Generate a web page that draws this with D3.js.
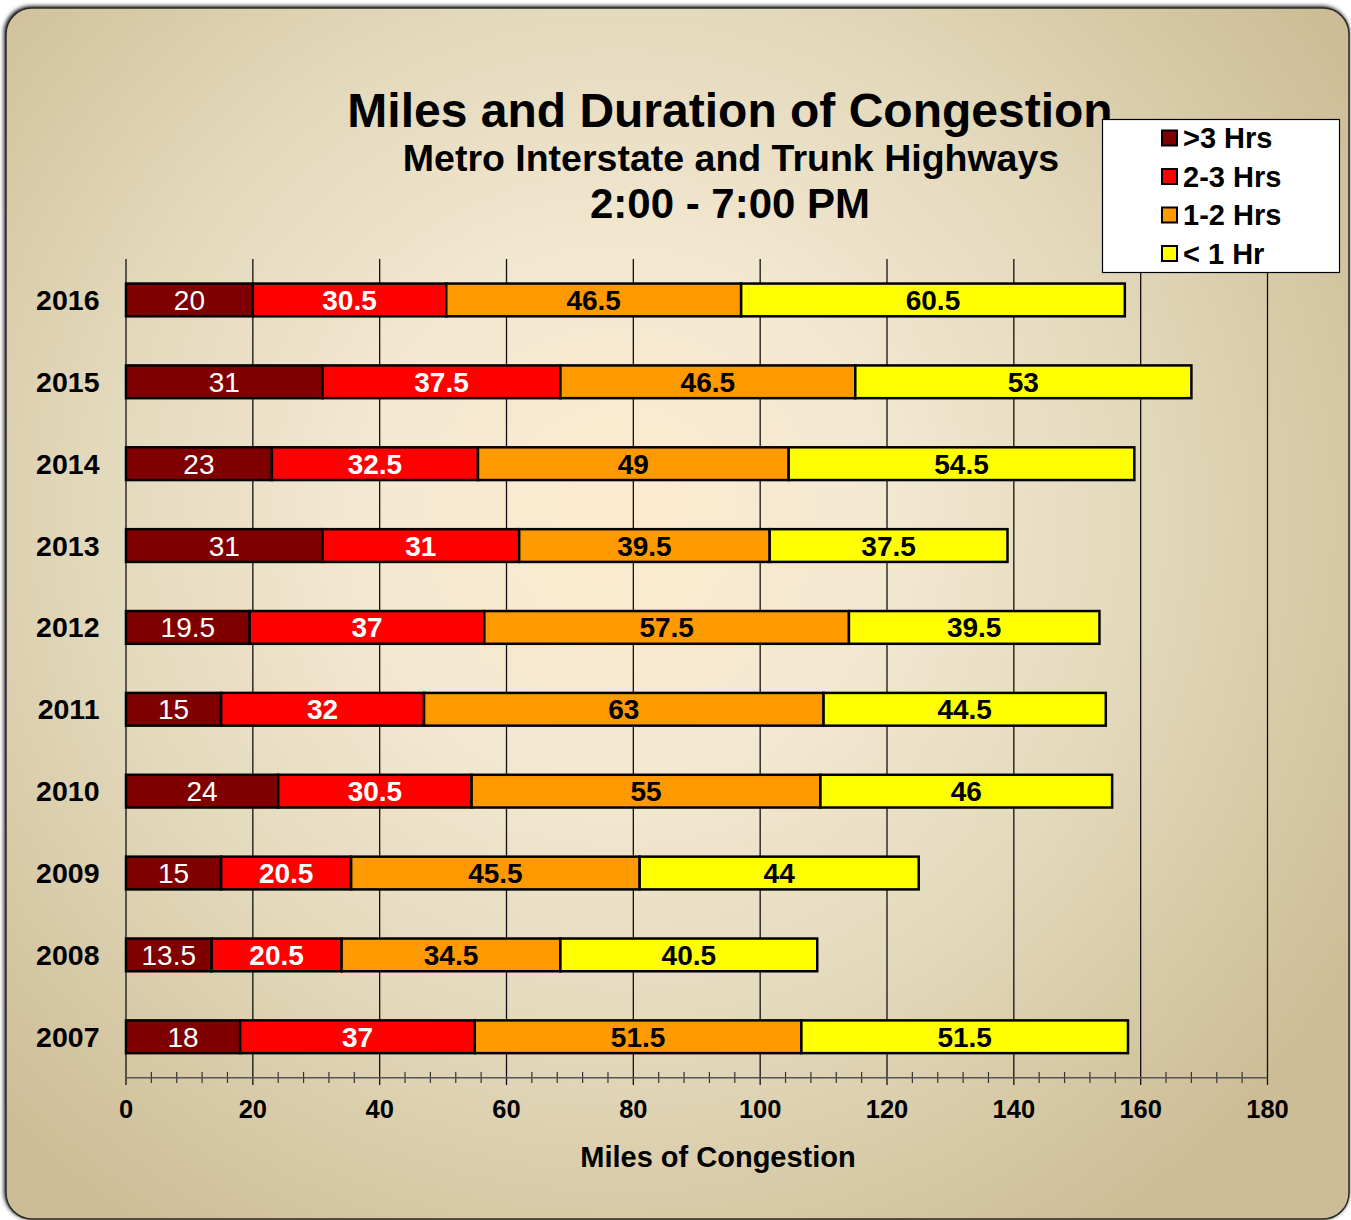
<!DOCTYPE html>
<html><head><meta charset="utf-8">
<script src="https://cdn.jsdelivr.net/npm/d3@7"></script>
<style>
html,body{margin:0;padding:0;background:#fff;}
svg{display:block;font-family:"Liberation Sans",Arial,Helvetica,sans-serif;}
</style></head><body>
<script>
const years = ["2016","2015","2014","2013","2012","2011","2010","2009","2008","2007"];
const seriesNames = [">3 Hrs","2-3 Hrs","1-2 Hrs","< 1 Hr"];
const over3 = [20,31,23,31,19.5,15,24,15,13.5,18];
const h2to3 = [30.5,37.5,32.5,31,37,32,30.5,20.5,20.5,37];
const h1to2 = [46.5,46.5,49,39.5,57.5,63,55,45.5,34.5,51.5];
const under1 = [60.5,53,54.5,37.5,39.5,44.5,46,44,40.5,51.5];
const xTicks = [0,20,40,60,80,100,120,140,160,180];
const colors = ["#800000","#ff0000","#ff9900","#ffff00"];
const labelFill = ["#fff","#fff","#000","#000"];
const labelWeight = ["normal","bold","bold","bold"];

const W = 1351, H = 1220;
const svg = d3.select("body").append("svg").attr("width", W).attr("height", H);
const defs = svg.append("defs");
const g = defs.append("radialGradient").attr("id","bg").attr("gradientUnits","userSpaceOnUse")
  .attr("cx",620).attr("cy",520).attr("r",860);
[[0,"#fdebcf"],[0.3,"#f3e8d1"],[0.6,"#e3d9bc"],[0.85,"#d5c7a3"],[1,"#cdbd97"]].forEach(s=>
  g.append("stop").attr("offset",s[0]).attr("stop-color",s[1]));
const sh = defs.append("filter").attr("id","sh").attr("x","-5%").attr("y","-5%").attr("width","110%").attr("height","110%");
sh.append("feGaussianBlur").attr("in","SourceAlpha").attr("stdDeviation",2);
sh.append("feOffset").attr("dx",-1).attr("dy",-1).attr("result","b");
const m = sh.append("feMerge"); m.append("feMergeNode").attr("in","b"); m.append("feMergeNode").attr("in","SourceGraphic");

svg.append("rect").attr("x",6).attr("y",8).attr("width",1343).attr("height",1211)
  .attr("rx",26).attr("fill","url(#bg)").attr("stroke","#2a2a2a").attr("stroke-width",1.5).attr("filter","url(#sh)");

const x = d3.scaleLinear().domain([0,180]).range([126,1267.5]);
const plotTop = 259, plotBottom = 1077.7;
const y = d3.scaleBand().domain(years).range([plotTop, plotBottom]).paddingInner(0.6).paddingOuter(0.3);

// gridlines / major ticks
svg.append("g").selectAll("line").data(xTicks).join("line")
  .attr("x1",d=>x(d)).attr("x2",d=>x(d)).attr("y1",plotTop).attr("y2",1085)
  .attr("stroke","#111").attr("stroke-width",1.3);
// minor ticks
const minor = d3.range(0,181,4).filter(v=>v%20!==0);
svg.append("g").selectAll("line").data(minor).join("line")
  .attr("x1",d=>x(d)).attr("x2",d=>x(d)).attr("y1",1072).attr("y2",1083)
  .attr("stroke","#333").attr("stroke-width",1.2);
// axis line
svg.append("line").attr("x1",x(0)).attr("x2",x(180)).attr("y1",plotBottom).attr("y2",plotBottom)
  .attr("stroke","#555").attr("stroke-width",1.5);
// tick labels
svg.append("g").selectAll("text").data(xTicks).join("text")
  .attr("x",d=>x(d)).attr("y",1118).attr("text-anchor","middle")
  .attr("font-size",25.5).attr("font-weight","bold").attr("fill","#000").text(d=>d);

// bars
const series = [over3,h2to3,h1to2,under1];
const stacked = years.map((yr,i)=>{
  let acc=0;
  return series.map((s,k)=>{const v=s[i]; const o={year:yr,k,v,x0:acc,x1:acc+v}; acc+=v; return o;});
}).flat();
const bars = svg.append("g");
bars.selectAll("rect").data(stacked).join("rect")
  .attr("x",d=>x(d.x0)).attr("y",d=>y(d.year)).attr("width",d=>x(d.x1)-x(d.x0)).attr("height",y.bandwidth())
  .attr("fill",d=>colors[d.k]).attr("stroke","#000").attr("stroke-width",2.5);
bars.selectAll("text").data(stacked).join("text")
  .attr("x",d=>x((d.x0+d.x1)/2)).attr("y",d=>y(d.year)+y.bandwidth()/2+10)
  .attr("text-anchor","middle").attr("font-size",28)
  .attr("font-weight",d=>labelWeight[d.k]).attr("fill",d=>labelFill[d.k]).text(d=>d.v);

// year labels
svg.append("g").selectAll("text").data(years).join("text")
  .attr("x",99.5).attr("y",d=>y(d)+y.bandwidth()/2+10).attr("text-anchor","end")
  .attr("font-size",28.5).attr("font-weight","bold").attr("fill","#000").text(d=>d);

// axis title
svg.append("text").attr("x",718).attr("y",1167).attr("text-anchor","middle")
  .attr("font-size",29).attr("font-weight","bold").text("Miles of Congestion");

// titles
svg.append("text").attr("x",730).attr("y",127).attr("text-anchor","middle")
  .attr("font-size",48).attr("font-weight","bold").text("Miles and Duration of Congestion");
svg.append("text").attr("x",731).attr("y",171).attr("text-anchor","middle")
  .attr("font-size",37.5).attr("font-weight","bold").text("Metro Interstate and Trunk Highways");
svg.append("text").attr("x",730).attr("y",218).attr("text-anchor","middle")
  .attr("font-size",42).attr("font-weight","bold").text("2:00 - 7:00 PM");

// legend
const lg = svg.append("g");
lg.append("rect").attr("x",1102.5).attr("y",119.5).attr("width",237).attr("height",153)
  .attr("fill","#fff").attr("stroke","#000").attr("stroke-width",1.2);
const items = lg.selectAll("g").data(seriesNames).join("g")
  .attr("transform",(d,i)=>`translate(0,${138+i*38.5})`);
items.append("rect").attr("x",1162).attr("y",-7.5).attr("width",15).attr("height",15)
  .attr("fill",(d,i)=>colors[i]).attr("stroke","#000").attr("stroke-width",2);
items.append("text").attr("x",1183).attr("y",10).attr("font-size",29).attr("font-weight","bold").text(d=>d);
</script>
</body></html>
